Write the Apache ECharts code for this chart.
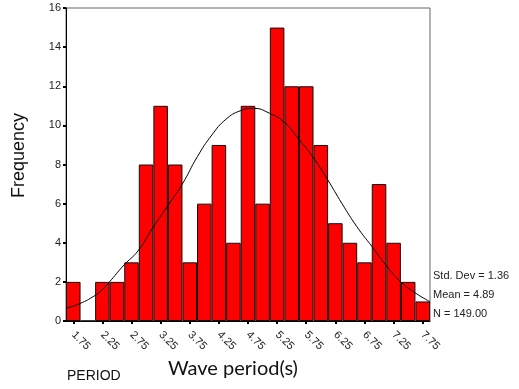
<!DOCTYPE html>
<html>
<head>
<meta charset="utf-8">
<script src="https://cdn.jsdelivr.net/npm/echarts@6/dist/echarts.min.js"></script>
<style>
  html, body { margin: 0; padding: 0; background: #fff; }
  #chart { width: 519px; height: 389px; }
</style>
</head>
<body>
<div id="chart"></div>
<script>
// histogram bins (bin centres, width 0.25)
var binLabels = ["1.75", "2.00", "2.25", "2.50", "2.75", "3.00", "3.25", "3.50", "3.75",
  "4.00", "4.25", "4.50", "4.75", "5.00", "5.25", "5.50", "5.75", "6.00", "6.25",
  "6.50", "6.75", "7.00", "7.25", "7.50", "7.75"];
var counts = [2, 0, 2, 2, 3, 8, 11, 8, 3, 6, 9, 4, 11, 6, 15, 12, 12, 9, 5, 4, 3, 7, 4, 2, 1];

// normal curve
var curveX = [1.625, 1.87, 2.11, 2.24, 2.36, 2.62, 2.86, 3.11, 3.36, 3.62, 3.88, 4.13, 4.37,
  4.62, 4.84, 5.12, 5.38, 5.61, 5.86, 6.12, 6.36, 6.62, 6.88, 7.13, 7.37, 7.63, 7.875];
var curveY = [0.65, 0.9, 1.28, 1.58, 1.96, 2.86, 3.58, 4.74, 5.84, 6.99, 8.4, 9.51, 10.31,
  10.75, 10.87, 10.62, 10.14, 9.34, 8.4, 7.21, 6.02, 4.82, 3.8, 2.81, 2.01, 1.42, 0.99];

var statLines = ["Std. Dev = 1.36", "Mean = 4.89", "N = 149.00"];

var chart = echarts.init(document.getElementById("chart"));
var font = "Liberation Sans, Arial, sans-serif";

var statText = statLines.map(function (t, i) {
  return {
    type: "text", left: 433, top: 270 + i * 19,
    style: { text: t, font: "11px " + font, fill: "#222" }
  };
});

var option = {
  animation: false,
  grid: {
    left: 66, right: 89, top: 8, bottom: 68,
    show: true, borderColor: "#666", borderWidth: 1
  },
  xAxis: [
    {
      type: "category",
      data: binLabels,
      axisLine: { lineStyle: { color: "#000", width: 1 } },
      axisTick: { show: true, interval: 1, alignWithLabel: true, length: 3, lineStyle: { color: "#000", width: 2 } },
      axisLabel: { interval: 1, rotate: -45, margin: 12, color: "#222", fontSize: 11, fontFamily: font }
    },
    {
      type: "value", min: 1.625, max: 7.875, show: false
    }
  ],
  yAxis: {
    type: "value", min: 0, max: 16, interval: 2,
    splitLine: { show: false },
    axisLine: { show: true, lineStyle: { color: "#000", width: 1 } },
    axisTick: { show: true, length: 3, lineStyle: { color: "#000", width: 2 } },
    axisLabel: { margin: 5, color: "#222", fontSize: 11, fontFamily: font }
  },
  series: [
    {
      type: "bar",
      data: counts,
      barCategoryGap: 0,
      itemStyle: { color: "#ff0000", borderColor: "#111", borderWidth: 1 }
    },
    {
      type: "line",
      xAxisIndex: 1,
      data: curveX.map(function (x, i) { return [x, curveY[i]]; }),
      smooth: true,
      showSymbol: false,
      lineStyle: { color: "#000", width: 1 },
      z: 5
    }
  ],
  graphic: [
    {
      type: "text", rotation: Math.PI / 2, x: 10, y: 198,
      style: { text: "Frequency", font: "18px " + font, fill: "#111" }
    },
    {
      type: "text", left: 168, top: 359,
      style: { text: "Wave period(s)", font: "20px Lato, 'Open Sans', sans-serif", fill: "#111" }
    },
    {
      type: "text", left: 67, top: 369,
      style: { text: "PERIOD", font: "14px " + font, fill: "#111" }
    }
  ].concat(statText)
};

chart.setOption(option);
</script>
</body>
</html>
